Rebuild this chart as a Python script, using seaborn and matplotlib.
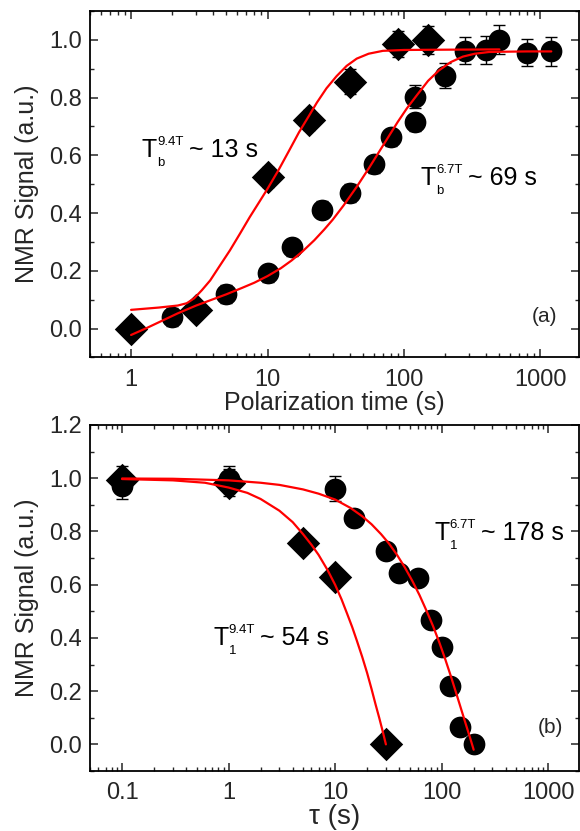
import matplotlib
matplotlib.use("Agg")
import matplotlib.pyplot as plt
import matplotlib.ticker as mticker
from matplotlib.transforms import offset_copy
import seaborn as sns

# ---- panel (a): signal build-up vs polarization time ----
a_t_94 = [1, 3, 10, 20, 40, 90, 150]
a_y_94 = [0.0, 0.065, 0.525, 0.722, 0.855, 0.985, 1.0]
a_e_94 = [0.03, 0.03, 0.035, 0.035, 0.043, 0.045, 0.048]

a_t_67 = [2, 5, 10, 15, 25, 40, 60, 80, 120, 120, 200, 280, 400, 500, 800, 1200]
a_y_67 = [0.04, 0.12, 0.192, 0.282, 0.412, 0.47, 0.569, 0.662, 0.803, 0.715,
          0.876, 0.963, 0.965, 1.0, 0.956, 0.96]
a_e_67 = [0.03, 0.03, 0.03, 0.03, 0.03, 0.03, 0.03, 0.03, 0.04, 0.03,
          0.044, 0.047, 0.05, 0.05, 0.047, 0.05]

# fit lines
a_fit94_t = [1, 1.6, 2.2, 2.56, 2.9, 3.3, 3.8, 4.5, 5.3, 6.3, 7.4, 8.6, 9.9, 12,
             14.6, 17, 20, 23, 27, 32, 38, 45, 55, 70, 100, 200, 500]
a_fit94_y = [0.065, 0.073, 0.080, 0.088, 0.105, 0.133, 0.167, 0.22, 0.271, 0.33,
             0.386, 0.435, 0.481, 0.548, 0.622, 0.68, 0.735, 0.783, 0.832, 0.874,
             0.91, 0.935, 0.952, 0.962, 0.965, 0.966, 0.967]

a_fit67_t = [1, 1.3, 1.7, 2.2, 3, 4, 5, 6.5, 8, 10, 12.5, 15, 18, 22, 26, 30, 36,
             45, 55, 65, 78, 90, 105, 125, 150, 180, 220, 270, 330, 420, 550, 800, 1200]
a_fit67_y = [-0.022, 0.002, 0.028, 0.053, 0.08, 0.102, 0.119, 0.141, 0.159, 0.182,
             0.209, 0.236, 0.267, 0.306, 0.343, 0.377, 0.426, 0.491, 0.554, 0.609,
             0.669, 0.716, 0.763, 0.81, 0.858, 0.894, 0.923, 0.942, 0.952, 0.958,
             0.959, 0.96, 0.96]

# ---- panel (b): signal decay vs tau ----
b_t_94 = [0.1, 1, 5, 10, 30]
b_y_94 = [0.995, 0.983, 0.755, 0.629, 0.0]
b_e_94 = [0.05, 0.05, 0.03, 0.03, 0.03]

b_t_67 = [0.1, 1, 10, 15, 30, 40, 60, 80, 100, 120, 150, 200]
b_y_67 = [0.972, 0.996, 0.961, 0.851, 0.726, 0.644, 0.625, 0.466, 0.366, 0.219, 0.065, 0.0]
b_e_67 = [0.05, 0.05, 0.047, 0.03, 0.03, 0.03, 0.03, 0.03, 0.03, 0.03, 0.03, 0.03]

b_fit94_t = [0.1, 0.3, 0.6, 1, 1.5, 2, 3, 4, 5, 6, 7, 8.5, 10, 11.5, 13, 14.5, 16,
             18, 20, 22, 24, 26, 28, 30]
b_fit94_y = [0.997, 0.992, 0.983, 0.965, 0.945, 0.922, 0.878, 0.835, 0.79, 0.75,
             0.712, 0.655, 0.6, 0.545, 0.49, 0.44, 0.39, 0.328, 0.268, 0.208,
             0.15, 0.099, 0.049, 0.0]

b_fit67_t = [0.1, 0.3, 1, 2, 3, 5, 7, 10, 14, 18, 22, 27, 32, 38, 45, 53, 62, 72,
             83, 95, 108, 122, 137, 153, 170, 185, 200]
b_fit67_y = [0.999, 0.998, 0.992, 0.983, 0.975, 0.958, 0.942, 0.92, 0.888, 0.857,
             0.827, 0.79, 0.755, 0.713, 0.666, 0.615, 0.561, 0.503, 0.445, 0.384,
             0.321, 0.257, 0.193, 0.131, 0.072, 0.025, -0.02]

a_xticks = [1, 10, 100, 1000]
a_xlabels = ["1", "10", "100", "1000"]
b_xticks = [0.1, 1, 10, 100, 1000]
b_xlabels = ["0.1", "1", "10", "100", "1000"]
a_yticks = [0.0, 0.2, 0.4, 0.6, 0.8, 1.0]
b_yticks = [0.0, 0.2, 0.4, 0.6, 0.8, 1.0, 1.2]

sns.set_theme(style="ticks")
plt.rcParams["font.family"] = ["Liberation Sans", "DejaVu Sans"]
plt.rcParams.update({
    "xtick.direction": "in", "ytick.direction": "in",
    "xtick.top": True, "ytick.right": True,
    "axes.linewidth": 1.3,
})

fig = plt.figure(figsize=(5.8, 8.31), dpi=100)
ax_a = fig.add_axes([0.15517, 0.56980, 0.84310, 0.41697])
ax_b = fig.add_axes([0.15517, 0.07220, 0.84310, 0.41637])


def draw_set(ax, t, y, e, marker, size):
    ax.errorbar(t, y, yerr=e, fmt="none", ecolor="black", elinewidth=1.0,
                capsize=4.2, capthick=1.0, zorder=2)
    sns.scatterplot(x=t, y=y, marker=marker, s=size, color="black",
                    linewidth=0, ax=ax, zorder=3)


def draw_fit(ax, t, y):
    sns.lineplot(x=t, y=y, color="red", linewidth=1.6, sort=False,
                 estimator=None, ax=ax, zorder=4)


def label_T(ax, x, y, sub, sup, rest):
    tr = ax.transAxes
    kw = dict(color="black", va="baseline", ha="left")
    ax.text(x, y, "T", transform=tr, fontsize=18, **kw)
    ax.text(x, y, sup, fontsize=9.5, transform=offset_copy(tr, fig=fig, x=15.5, y=12, units="dots"), **kw)
    ax.text(x, y, sub, fontsize=9.5, transform=offset_copy(tr, fig=fig, x=15.5, y=-9, units="dots"), **kw)
    ax.text(x, y, rest, fontsize=18, transform=offset_copy(tr, fig=fig, x=47, y=0, units="dots"), **kw)


def style_axis(ax, xlim, ylim, xticks, xlabels, yticks, xlabel, xlabel_size):
    ax.set_xscale("log")
    ax.set_xlim(*xlim)
    ax.set_ylim(*ylim)
    ax.set_xticks(xticks)
    ax.set_xticklabels(xlabels)
    ax.xaxis.set_minor_locator(mticker.LogLocator(base=10, subs=range(2, 10), numticks=30))
    ax.xaxis.set_minor_formatter(mticker.NullFormatter())
    ax.set_yticks(yticks)
    ax.set_yticklabels([f"{v:.1f}" for v in yticks])
    ax.yaxis.set_minor_locator(mticker.MultipleLocator(0.1))
    ax.tick_params(which="major", length=6, width=1.1, labelsize=17, pad=6)
    ax.tick_params(which="minor", length=3.2, width=1.0)
    ax.tick_params(axis="x", which="major", pad=8)
    ax.set_xlabel(xlabel, fontsize=xlabel_size, labelpad=0)
    ax.set_ylabel("NMR Signal (a.u.)", fontsize=18, labelpad=7)
    for s in ax.spines.values():
        s.set_visible(True)
        s.set_color("black")


# panel (a)
draw_set(ax_a, a_t_94, a_y_94, a_e_94, "D", 290)
draw_set(ax_a, a_t_67, a_y_67, a_e_67, "o", 245)
draw_fit(ax_a, a_fit94_t, a_fit94_y)
draw_fit(ax_a, a_fit67_t, a_fit67_y)
style_axis(ax_a, (0.5, 1915), (-0.1, 1.1), a_xticks, a_xlabels, a_yticks,
           "Polarization time (s)", 18)
label_T(ax_a, 0.1057, 0.5795, "b", "9.4T", "~ 13 s")
label_T(ax_a, 0.6759, 0.4978, "b", "6.7T", "~ 69 s")
ax_a.text(0.955, 0.1178, "(a)", transform=ax_a.transAxes, fontsize=15,
          ha="right", va="center")

# panel (b)
draw_set(ax_b, b_t_94, b_y_94, b_e_94, "D", 290)
draw_set(ax_b, b_t_67, b_y_67, b_e_67, "o", 245)
draw_fit(ax_b, b_fit94_t, b_fit94_y)
draw_fit(ax_b, b_fit67_t, b_fit67_y)
style_axis(ax_b, (0.05, 1950), (-0.1, 1.2), b_xticks, b_xlabels, b_yticks,
           "τ (s)", 20)
label_T(ax_b, 0.7035, 0.669, "1", "6.7T", "~ 178 s")
label_T(ax_b, 0.2521, 0.3642, "1", "9.4T", "~ 54 s")
ax_b.text(0.967, 0.1243, "(b)", transform=ax_b.transAxes, fontsize=15,
          ha="right", va="center")

fig.savefig("out.png", dpi=100)
